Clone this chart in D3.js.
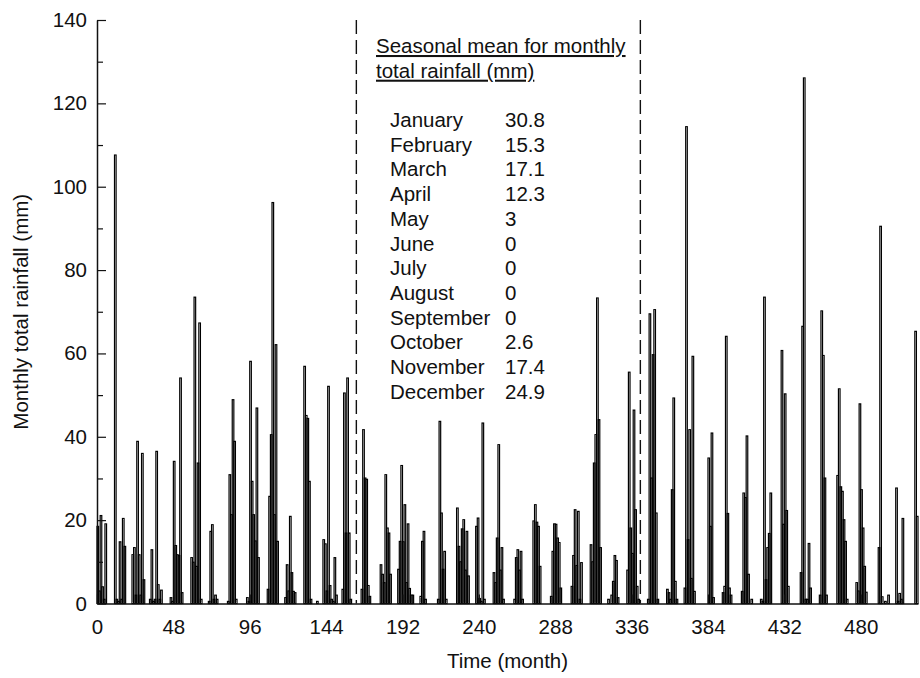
<!DOCTYPE html>
<html>
<head>
<meta charset="utf-8">
<script src="https://cdn.jsdelivr.net/npm/d3@7/dist/d3.min.js"></script>
<style>
  html, body { margin: 0; padding: 0; background: #fff; }
  svg { display: block; font-family: "Liberation Sans", Arial, Helvetica, sans-serif; }
</style>
</head>
<body>
<svg id="chart" width="920" height="678"></svg>
<script>
// Monthly total rainfall (mm), one row per 12 consecutive months, 516 months in all
const rainfall = [
  18.5, 3, 21.1, 4, 1, 19.1, 0, 0, 0, 0, 0, 107.6,
  1, 0.5, 14.8, 1, 20.4, 13.7, 0, 0, 0, 0, 11.7, 13.4,
  2, 38.9, 11.7, 2, 36.0, 5.7, 0, 0, 0, 1, 12.9, 0.5,
  1, 36.5, 4.5, 1, 3.2, 0, 0, 0, 0, 0, 1.4, 0.5,
  34.1, 13.9, 11.7, 11.5, 54.1, 2.6, 0, 0, 0, 0, 0, 11.0,
  9.9, 73.5, 8.9, 33.7, 67.3, 1, 0, 0, 0, 0, 0.5, 17.3,
  18.9, 1, 2, 1, 0, 0, 0, 0, 0, 0, 0.5, 30.9,
  21.3, 48.9, 38.9, 1, 0, 0, 0, 0, 0, 0, 1.4, 0.5,
  58.1, 29.3, 21.3, 15, 46.9, 11, 0, 0, 0, 0, 0, 3.4,
  25.7, 40.5, 96.2, 21.3, 62.1, 14.9, 0, 0, 0, 0, 1.4, 9.3,
  3, 20.9, 7.4, 2.9, 2.6, 0, 0, 0, 0, 0, 56.9, 45.1,
  44.4, 29.3, 1, 0, 0, 0, 0.5, 0, 0, 0, 15.3, 14.3,
  3, 52.1, 4.3, 1, 0.5, 11, 2, 0, 0, 0, 3.4, 50.5,
  16.9, 54.1, 16.9, 1, 0, 0, 0, 0, 0, 0, 3.4, 41.7,
  30.1, 29.8, 4.3, 1.7, 0, 0, 0, 0, 0, 0, 9.3, 7,
  5, 30.9, 18.1, 16.9, 7, 0, 0, 0, 0, 8.2, 14.9, 33.1,
  14.8, 23.7, 5, 19.1, 3.6, 2, 2, 0, 0, 0, 0, 1.7,
  14.9, 17.3, 1, 0, 0, 0, 0, 0, 0, 0, 1, 43.7,
  21.7, 8.2, 12.5, 1, 0, 0, 0, 0, 0, 0, 22.9, 13.7,
  10, 17.9, 20.1, 8, 17.3, 6.6, 0, 0, 0, 0, 18.5, 20.5,
  1.2, 0.5, 43.3, 1, 0, 0, 0, 0, 0, 7.4, 5, 15.7,
  38.1, 8, 13.4, 1, 0, 0, 0, 0, 0, 0, 1, 11,
  12.9, 8, 12.5, 1, 0, 0, 0, 0, 0, 0, 19.8, 23.7,
  19.5, 18.5, 8.9, 0, 0, 0, 0, 0, 0, 1.7, 12.5, 19.1,
  19, 15.7, 14.6, 3.7, 0, 0, 0, 0, 0, 0, 4.1, 11.5,
  22.5, 9.1, 22.1, 1, 9.8, 0, 0, 0, 0, 0, 14.1, 10,
  33.7, 40.5, 73.3, 44.1, 13.4, 0, 0, 0, 0, 1, 0, 2,
  5.3, 11.5, 10.3, 1.4, 0, 0, 0, 0, 0, 8, 55.5, 18.1,
  12, 46.4, 22.5, 4.1, 1, 0, 0, 0, 0, 0, 1, 69.5,
  30.1, 59.7, 70.5, 21.7, 1, 0, 0, 0, 0, 0, 3.4, 2.6,
  1, 27.3, 49.3, 5.3, 1, 0, 0, 0, 0, 3.7, 114.4, 15.3,
  41.7, 6, 59.3, 2.9, 0, 0, 0, 0, 0, 0, 0, 0,
  34.9, 18.5, 40.9, 1.4, 0, 0, 0, 0, 0, 2.6, 4.1, 64.1,
  21.6, 3.7, 2, 0, 0, 0, 0, 0, 0, 2.9, 26.5, 25.4,
  40.2, 7, 0, 1, 0, 0, 0, 0, 0, 1, 0.5, 73.5,
  5.7, 13.4, 16.8, 26.5, 0, 0, 0, 0, 0, 0, 60.7, 19,
  50.3, 22.3, 4.1, 0, 0, 0, 0, 0, 0, 0, 7.4, 66.5,
  126.1, 1, 1, 14.4, 3.7, 0, 0, 0, 0, 0, 2, 70.2,
  59.5, 30.1, 2, 0, 0, 0, 0, 0, 0, 30.7, 51.5, 28,
  26.9, 20.1, 14.9, 1, 0, 0, 0, 0, 0, 5, 3, 47.9,
  27.3, 18.1, 8.9, 2.7, 0, 0, 0, 0, 0, 0, 0, 13.4,
  90.5, 1.6, 0, 0.5, 0, 2, 0, 0, 0, 0, 27.7, 0.5,
  2.4, 1, 20.4, 0, 0, 0, 0, 0, 0, 0, 65.3, 20.9
];

// Period dividers (month positions)
const dividers = [163, 341.5];

// Axis ticks
const xTicks = [0, 48, 96, 144, 192, 240, 288, 336, 384, 432, 480];
const yTicks = [0, 20, 40, 60, 80, 100, 120, 140];
const yMinorTicks = [10, 30, 50, 70, 90, 110, 130];

// Seasonal mean table
const seasonTitle = ["Seasonal mean for monthly", "total rainfall (mm)"];
const monthNames = ["January", "February", "March", "April", "May", "June",
  "July", "August", "September", "October", "November", "December"];
const monthMeans = ["30.8", "15.3", "17.1", "12.3", "3", "0", "0", "0", "0", "2.6", "17.4", "24.9"];

const svg = d3.select("#chart");
svg.append("rect").attr("width", 920).attr("height", 678).attr("fill", "#fff");

const x = d3.scaleLinear().domain([0, rainfall.length]).range([97, 918]);
const y = d3.scaleLinear().domain([0, 140]).range([603.5, 20]);

// Bars: outlined, one month wide
svg.append("g")
  .selectAll("rect")
  .data(rainfall.map((v, i) => ({ i, v })).filter(d => d.v > 0))
  .join("rect")
  .attr("x", d => x(d.i))
  .attr("width", d => x(d.i + 1) - x(d.i))
  .attr("y", d => y(d.v))
  .attr("height", d => y(0) - y(d.v))
  .attr("fill", "none")
  .attr("stroke", "#000")
  .attr("stroke-width", 1.2);

// Dashed dividers
svg.append("g")
  .selectAll("line")
  .data(dividers)
  .join("line")
  .attr("x1", d => x(d)).attr("x2", d => x(d))
  .attr("y1", y(140)).attr("y2", y(0))
  .attr("stroke", "#111")
  .attr("stroke-width", 1.4)
  .attr("stroke-dasharray", "14,6");

// Y axis
svg.append("g")
  .attr("transform", `translate(${x(0)},0)`)
  .call(d3.axisLeft(y).tickValues(yTicks).tickSizeInner(-9).tickSizeOuter(0).tickPadding(10));
svg.append("g")
  .attr("transform", `translate(${x(0)},0)`)
  .call(d3.axisLeft(y).tickValues(yMinorTicks).tickSizeInner(-6).tickSizeOuter(0).tickFormat(""))
  .call(g => g.select(".domain").remove());

// X axis
svg.append("g")
  .attr("transform", `translate(0,${y(0)})`)
  .call(d3.axisBottom(x).tickValues(xTicks).tickSizeInner(-9).tickSizeOuter(0).tickPadding(16));

svg.selectAll(".domain").attr("stroke", "#111").attr("stroke-width", 1.5);
svg.selectAll(".tick line").attr("stroke", "#111").attr("stroke-width", 1.2);
svg.selectAll(".tick text").attr("font-size", 20.5).attr("fill", "#111")
  .attr("font-family", "Liberation Sans, Arial, sans-serif");

// Axis titles
svg.append("text")
  .attr("transform", `translate(28,${(y(0) + y(140)) / 2}) rotate(-90)`)
  .attr("text-anchor", "middle")
  .attr("font-size", 20.5)
  .attr("fill", "#111")
  .text("Monthly total rainfall (mm)");

svg.append("text")
  .attr("x", (x(0) + x(rainfall.length)) / 2)
  .attr("y", 668)
  .attr("text-anchor", "middle")
  .attr("font-size", 20.5)
  .attr("fill", "#111")
  .text("Time (month)");

// Seasonal mean table
const table = svg.append("g").attr("fill", "#111").attr("font-size", 20.5);
table.selectAll("text.head")
  .data(seasonTitle)
  .join("text")
  .attr("class", "head")
  .attr("x", 376)
  .attr("y", (d, i) => 53 + i * 24.7)
  .attr("text-decoration", "underline")
  .text(d => d);

table.selectAll("text.name")
  .data(monthNames)
  .join("text")
  .attr("class", "name")
  .attr("x", 390)
  .attr("y", (d, i) => 127 + i * 24.7)
  .text(d => d);

table.selectAll("text.val")
  .data(monthMeans)
  .join("text")
  .attr("class", "val")
  .attr("x", 505)
  .attr("y", (d, i) => 127 + i * 24.7)
  .text(d => d);
</script>
</body>
</html>
